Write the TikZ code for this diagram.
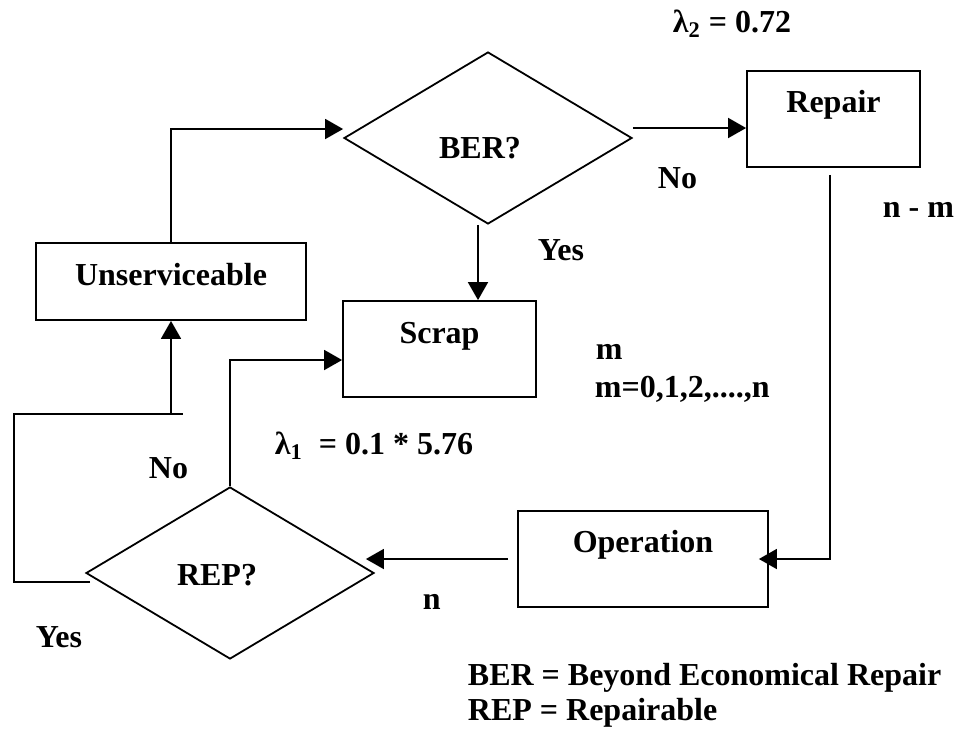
\documentclass[tikz,border=0pt]{standalone}
\usepackage{fontspec}
\setmainfont{Liberation Serif}
\usetikzlibrary{shapes.geometric,arrows.meta}

\begin{document}
\begin{tikzpicture}[x=0.5pt,y=-0.5pt,
  font=\fontsize{16}{19}\selectfont\bfseries,
  line width=0.9pt,
  box/.style={draw,rectangle,inner sep=0pt,text height=12pt,text depth=#1},
  decision/.style={draw,diamond,inner sep=0pt,minimum width=144pt,minimum height=86pt},
  dtext/.style={anchor=base,inner sep=0pt},
  lbl/.style={anchor=base west,inner sep=0pt},
  arr/.style={-{Triangle[length=9pt,width=10pt]}}]

  \useasboundingbox (0,0) rectangle (958,740);

  % decisions
  \node[decision,label={[dtext,xshift=-4pt,yshift=-5pt]center:BER?}] (ber) at (488,138) {};
  \node[decision,label={[dtext,xshift=-6.5pt,yshift=-1pt]center:REP?}] (rep) at (230,573) {};

  % boxes
  \node[box=8.5pt,minimum width=135pt,minimum height=38.5pt] (unserv) at (171,281.5) {Unserviceable};
  \node[box=19pt,minimum width=86.5pt,minimum height=48pt] (repair) at (833.5,119) {Repair};
  \node[box=18pt,minimum width=96.5pt,minimum height=48pt] (scrap) at (439.5,349) {Scrap};
  \node[box=19pt,minimum width=125pt,minimum height=48pt] (operation) at (643,559) {Operation};

  % loop back to unserviceable
  \coordinate (loopcorner) at (14,414);
  \coordinate (loopend) at (183,414);

  % connectors
  \draw[arr] (unserv.north) |- ([yshift=4.5pt]ber.west);
  \draw[arr] ([yshift=5pt]ber.east) -- ([yshift=5pt]ber.east -| repair.west);
  \draw[arr] ([xshift=-5pt]ber.south) -- ([xshift=-5pt]ber.south |- scrap.north);
  \draw[arr,shorten >=-5pt] ([xshift=-1.75pt,yshift=-3.5pt]repair.south) |- (operation.east);
  \draw[arr] ([xshift=-4.5pt]operation.west) -- ([xshift=-4.5pt]operation.west -| rep.east);
  \draw[arr] (rep.north) |- ([yshift=-5.5pt]scrap.west);
  \draw ([xshift=2.5pt,yshift=-4.5pt]rep.west) -| (loopcorner) -- (loopend);
  \draw[arr] (unserv.south |- loopend) -- (unserv.south);

  % labels
  \node[lbl] (lamtwo) at (672,32) {λ\textsubscript{2} = 0.72};
  \node[lbl] (nober) at (657,188) {No};
  \node[lbl] (nminusm) at (882,217) {n - m};
  \node[lbl] (yesber) at (537,260) {Yes};
  \node[lbl] (mlbl) at (595,359) {m};
  \node[lbl] (mrange) at (594,397) {m=0,1,2,....,n};
  \node[lbl] (lamone) at (274,454) {λ\textsubscript{1}\ \ = 0.1 * 5.76};
  \node[lbl] (norep) at (148,478) {No};
  \node[lbl] (yesrep) at (35,647) {Yes};
  \node[lbl] (nlbl) at (422,609) {n};
  \node[lbl] (legber) at (467,685) {BER = Beyond Economical Repair};
  \node[lbl] (legrep) at (467,720) {REP = Repairable};
\end{tikzpicture}
\end{document}
